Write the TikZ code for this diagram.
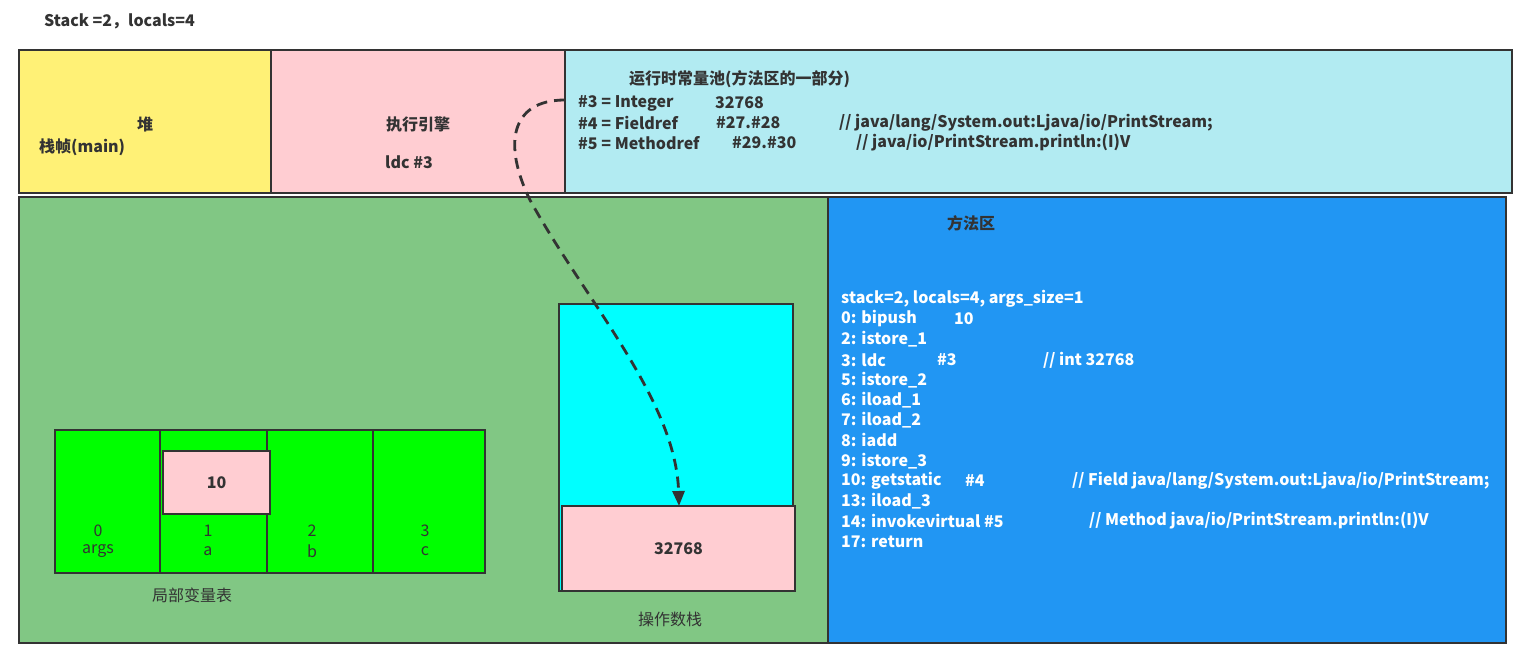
\documentclass[tikz,border=0pt]{standalone}
\usepackage{fontspec}
\setmainfont{Noto Sans CJK SC}
\usetikzlibrary{arrows.meta}
\definecolor{bordc}{HTML}{333333}
\definecolor{heapc}{HTML}{FFF176}
\definecolor{pinkc}{HTML}{FFCDD2}
\definecolor{poolc}{HTML}{B2EBF2}
\definecolor{framec}{HTML}{81C784}
\definecolor{methc}{HTML}{2196F3}
\definecolor{cellc}{HTML}{00FF00}
\definecolor{stackc}{HTML}{00FFFF}
\tikzset{
  box/.style={draw=bordc, line width=2.8pt, inner sep=0pt, outer sep=0pt, anchor=north west},
  txt/.style={text=bordc, inner sep=0pt, anchor=west, font=\fontsize{16}{19}\selectfont\bfseries},
  ctxt/.style={text=bordc, inner sep=0pt, anchor=center, font=\fontsize{16}{19}\selectfont\bfseries},
  rtxt/.style={text=bordc, inner sep=0pt, anchor=center, font=\fontsize{16}{19}\selectfont},
  wtxt/.style={text=white, inner sep=0pt, anchor=west, font=\fontsize{16}{19}\selectfont\bfseries},
}
\newcommand{\bx}[7]{\node[box, fill=#2, minimum width=#5pt, minimum height=#6pt] (#1) at (#3,#4) {#7};}
\begin{document}
\begin{tikzpicture}[x=1pt,y=-1pt]
\useasboundingbox[fill=white] (0,0) rectangle (1530,671);
\node[txt] (title) at (44,21) {Stack =2，locals=4};
% top row
\bx{heap}{heapc}{19}{50}{252}{143}{}
\bx{engine}{pinkc}{271}{50}{294}{143}{}
\bx{pool}{poolc}{565}{50}{947}{143}{}
% bottom row
\bx{frame}{framec}{19}{197}{809}{446}{}
\bx{method}{methc}{828}{197}{678}{446}{}
% heap texts
\node[ctxt] (heapt) at (145,124) {堆};
\node[txt] (framet) at (39,147) {栈帧(main)};
% engine texts
\node[ctxt] (enginet) at (418,124) {执行引擎};
\node[txt] (ldct) at (385,162) {ldc \#3};
% pool texts
\node[txt] (poolt) at (629,79) {运行时常量池(方法区的一部分)};
\node[txt] (p3a) at (578,103) {\#3 = Integer};
\node[txt] (p3b) at (715,103) {32768};
\node[txt] (p4a) at (578,123) {\#4 = Fieldref};
\node[txt] (p4b) at (716,123) {\#27.\#28};
\node[txt] (p4c) at (839,123) {// java/lang/System.out:Ljava/io/PrintStream;};
\node[txt] (p5a) at (578,143) {\#5 = Methodref};
\node[txt] (p5b) at (732,143) {\#29.\#30};
\node[txt] (p5c) at (856,143) {// java/io/PrintStream.println:(I)V};
% method area
\node[txt] (metht) at (947,223) {方法区};
\node[wtxt] (b0) at (841,299) {stack=2, locals=4, args\_size=1};
\node[wtxt] (b1) at (841,319) {0: bipush};
\node[wtxt] (b1v) at (954,319) {10};
\node[wtxt] (b2) at (841,339) {2: istore\_1};
\node[wtxt] (b3) at (841,360) {3: ldc};
\node[wtxt] (b3v) at (937,360) {\#3};
\node[wtxt] (b3c) at (1043,360) {// int 32768};
\node[wtxt] (b4) at (841,380) {5: istore\_2};
\node[wtxt] (b5) at (841,400) {6: iload\_1};
\node[wtxt] (b6) at (841,420) {7: iload\_2};
\node[wtxt] (b7) at (841,440) {8: iadd};
\node[wtxt] (b8) at (841,461) {9: istore\_3};
\node[wtxt] (b9) at (841,481) {10: getstatic};
\node[wtxt] (b9v) at (965,481) {\#4};
\node[wtxt] (b9c) at (1072,481) {// Field java/lang/System.out:Ljava/io/PrintStream;};
\node[wtxt] (b10) at (841,501) {13: iload\_3};
\node[wtxt] (b11) at (841,521) {14: invokevirtual \#5};
\node[wtxt] (b11c) at (1089,521) {// Method java/io/PrintStream.println:(I)V};
\node[wtxt] (b12) at (841,542) {17: return};
% local variable table
\bx{c0}{cellc}{55}{430}{105}{143}{}
\bx{c1}{cellc}{160}{430}{107}{143}{}
\bx{c2}{cellc}{267}{430}{106}{143}{}
\bx{c3}{cellc}{373}{430}{112}{143}{}
\bx{v10}{pinkc}{163}{451}{107}{63}{}
\node[ctxt] (v10t) at (v10.center) {10};
\node[rtxt] (c0a) at (98,531) {0};
\node[rtxt] (c0b) at (98,551) {args};
\node[rtxt] (c1a) at (208,531) {1};
\node[rtxt] (c1b) at (208,551) {a};
\node[rtxt] (c2a) at (312,531) {2};
\node[rtxt] (c2b) at (312,551) {b};
\node[rtxt] (c3a) at (425,531) {3};
\node[rtxt] (c3b) at (425,551) {c};
\node[rtxt] (lvt) at (192,595) {局部变量表};
% operand stack
\bx{ops}{stackc}{559}{304}{234}{287}{}
\bx{val}{pinkc}{562}{506}{233}{85}{}
\node[ctxt] (valt) at (val.center) {32768};
\node[rtxt] (opst) at (670,619) {操作数栈};
% arrow
\coordinate (start) at (565,100);
\draw[bordc, line width=2.8pt, dash pattern=on 11pt off 7pt, -{Triangle[length=15pt,width=12pt]}]
  (start) .. controls (510,100) and (503,145) .. (530,200)
  .. controls (585,300) and (676,400) .. (val.north -| 679,0);
\end{tikzpicture}
\end{document}
